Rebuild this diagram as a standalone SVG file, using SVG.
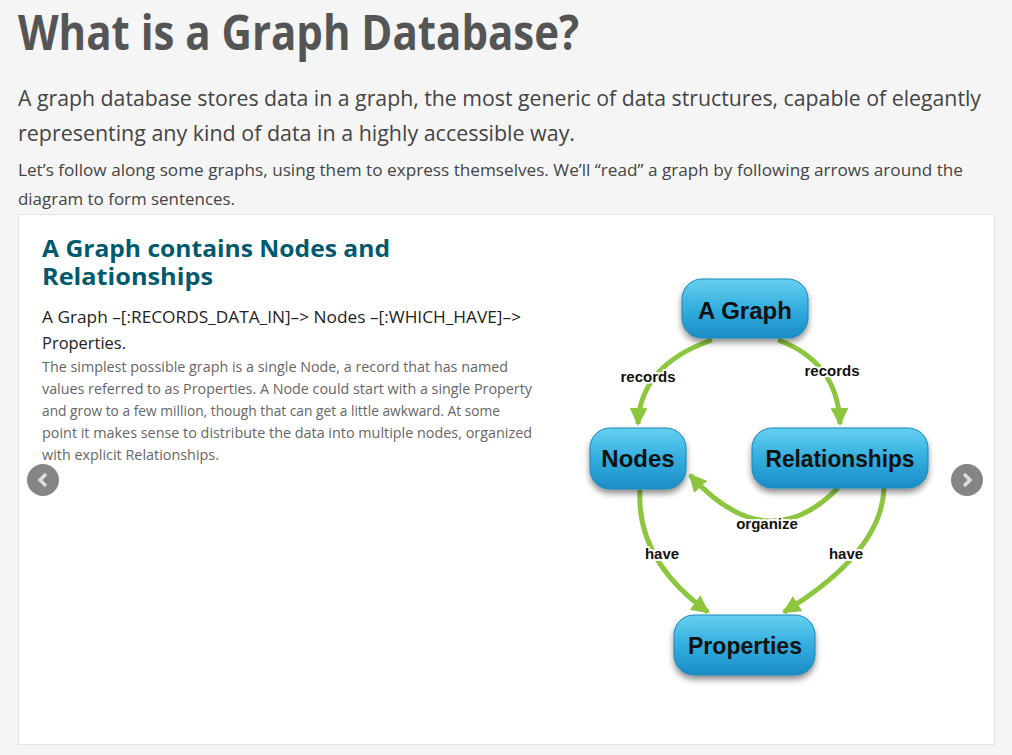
<svg xmlns="http://www.w3.org/2000/svg" width="1012" height="755" viewBox="0 0 1012 755">
<style>
.t{font-family:"Open Sans","Noto Sans",sans-serif}
.h1{font-weight:700;font-size:48px;fill:#555}
.lead{font-size:21.5px;fill:#444}
.sub{font-size:17px;fill:#444}
.h2{font-weight:700;font-size:24px;fill:#005a6e}
.cy{font-size:16.5px;fill:#222}
.p{font-size:14px;fill:#666}
.nl{font-family:"Liberation Sans",Arial,sans-serif;font-weight:700;font-size:24px;fill:#111;text-anchor:middle}
.el{font-family:"Liberation Sans",Arial,sans-serif;font-weight:700;font-size:15px;fill:#111;text-anchor:middle;paint-order:stroke;stroke:#fff;stroke-width:4px;stroke-linejoin:round}
.edge{fill:none;stroke:#8cc63f;stroke-width:5;marker-end:url(#ah)}
.box{fill:url(#g);stroke:#1a86b8;stroke-width:1;filter:url(#sh)}
</style>
<defs>
<linearGradient id="g" x1="0" y1="0" x2="0" y2="1">
<stop offset="0" stop-color="#66d0f0"/>
<stop offset="0.5" stop-color="#33aede"/>
<stop offset="1" stop-color="#1b8cc6"/>
</linearGradient>
<filter id="sh" x="-20%" y="-20%" width="140%" height="160%">
<feGaussianBlur in="SourceAlpha" stdDeviation="3"/>
<feOffset dy="4"/>
<feComponentTransfer><feFuncA type="linear" slope="0.45"/></feComponentTransfer>
<feMerge><feMergeNode/><feMergeNode in="SourceGraphic"/></feMerge>
</filter>
<marker id="ah" markerUnits="userSpaceOnUse" markerWidth="20" markerHeight="18" refX="16" refY="9" orient="auto">
<path d="M0,0 L18,9 L0,18 Z" fill="#8cc63f"/>
</marker>
</defs>
<rect width="1012" height="755" fill="#f5f5f5"/>
<g id="header">
<text class="t h1" x="18" y="50" textLength="561" lengthAdjust="spacingAndGlyphs">What is a Graph Database?</text>
<text class="t lead" x="18" y="106" textLength="963" lengthAdjust="spacingAndGlyphs">A graph database stores data in a graph, the most generic of data structures, capable of elegantly</text>
<text class="t lead" x="18" y="141" textLength="557" lengthAdjust="spacingAndGlyphs">representing any kind of data in a highly accessible way.</text>
<text class="t sub" x="18" y="176" textLength="945" lengthAdjust="spacingAndGlyphs">Let’s follow along some graphs, using them to express themselves. We’ll “read” a graph by following arrows around the</text>
<text class="t sub" x="18" y="205" textLength="217" lengthAdjust="spacingAndGlyphs">diagram to form sentences.</text>
</g>
<rect x="18.5" y="214.5" width="976" height="530" fill="#fff" stroke="#e3e3e3"/>
<g id="card-text">
<text class="t h2" x="42" y="257" textLength="348" lengthAdjust="spacingAndGlyphs">A Graph contains Nodes and</text>
<text class="t h2" x="42" y="285" textLength="171" lengthAdjust="spacingAndGlyphs">Relationships</text>
<text class="t cy" x="42" y="323" textLength="479" lengthAdjust="spacingAndGlyphs">A Graph –[:RECORDS_DATA_IN]–&gt; Nodes –[:WHICH_HAVE]–&gt;</text>
<text class="t cy" x="42" y="349" textLength="84" lengthAdjust="spacingAndGlyphs">Properties.</text>
<text class="t p" x="42" y="372" textLength="466" lengthAdjust="spacingAndGlyphs">The simplest possible graph is a single Node, a record that has named</text>
<text class="t p" x="42" y="394" textLength="490" lengthAdjust="spacingAndGlyphs">values referred to as Properties. A Node could start with a single Property</text>
<text class="t p" x="42" y="416" textLength="458" lengthAdjust="spacingAndGlyphs">and grow to a few million, though that can get a little awkward. At some</text>
<text class="t p" x="42" y="438" textLength="490" lengthAdjust="spacingAndGlyphs">point it makes sense to distribute the data into multiple nodes, organized</text>
<text class="t p" x="42" y="460" textLength="177" lengthAdjust="spacingAndGlyphs">with explicit Relationships.</text>
</g>
<g id="prev-button">
<circle cx="43" cy="480" r="16" fill="#858585"/>
<path d="M46,474 L40,480 L46,486" fill="none" stroke="#ddd" stroke-width="3.5"/>
</g>
<g id="next-button">
<circle cx="967" cy="480" r="16" fill="#858585"/>
<path d="M964,474 L970,480 L964,486" fill="none" stroke="#ddd" stroke-width="3.5"/>
</g>
<g id="connectors">
<path class="edge" d="M712,340 Q640,365 638,424"/>
<path class="edge" d="M778,340 Q838,362 840,424"/>
<path class="edge" d="M838,488 Q767,560 690,475"/>
<path class="edge" d="M640,490 Q636,560 708,612"/>
<path class="edge" d="M884,488 Q882,552 784,612"/>
<text class="el" x="648" y="382">records</text>
<text class="el" x="832" y="376">records</text>
<text class="el" x="767" y="529">organize</text>
<text class="el" x="662" y="559">have</text>
<text class="el" x="846" y="559">have</text>
</g>
<g id="node-agraph">
<rect class="box" x="682" y="279" width="126" height="59" rx="20"/>
<text class="nl" x="745" y="319">A Graph</text>
</g>
<g id="node-nodes">
<rect class="box" x="590" y="428" width="96" height="61" rx="20"/>
<text class="nl" x="638" y="467">Nodes</text>
</g>
<g id="node-relationships">
<rect class="box" x="752" y="428" width="176" height="60" rx="20"/>
<text class="nl" x="840" y="467" textLength="149" lengthAdjust="spacingAndGlyphs">Relationships</text>
</g>
<g id="node-properties">
<rect class="box" x="674" y="615" width="141" height="60" rx="20"/>
<text class="nl" x="745" y="654" textLength="114" lengthAdjust="spacingAndGlyphs">Properties</text>
</g>
</svg>
